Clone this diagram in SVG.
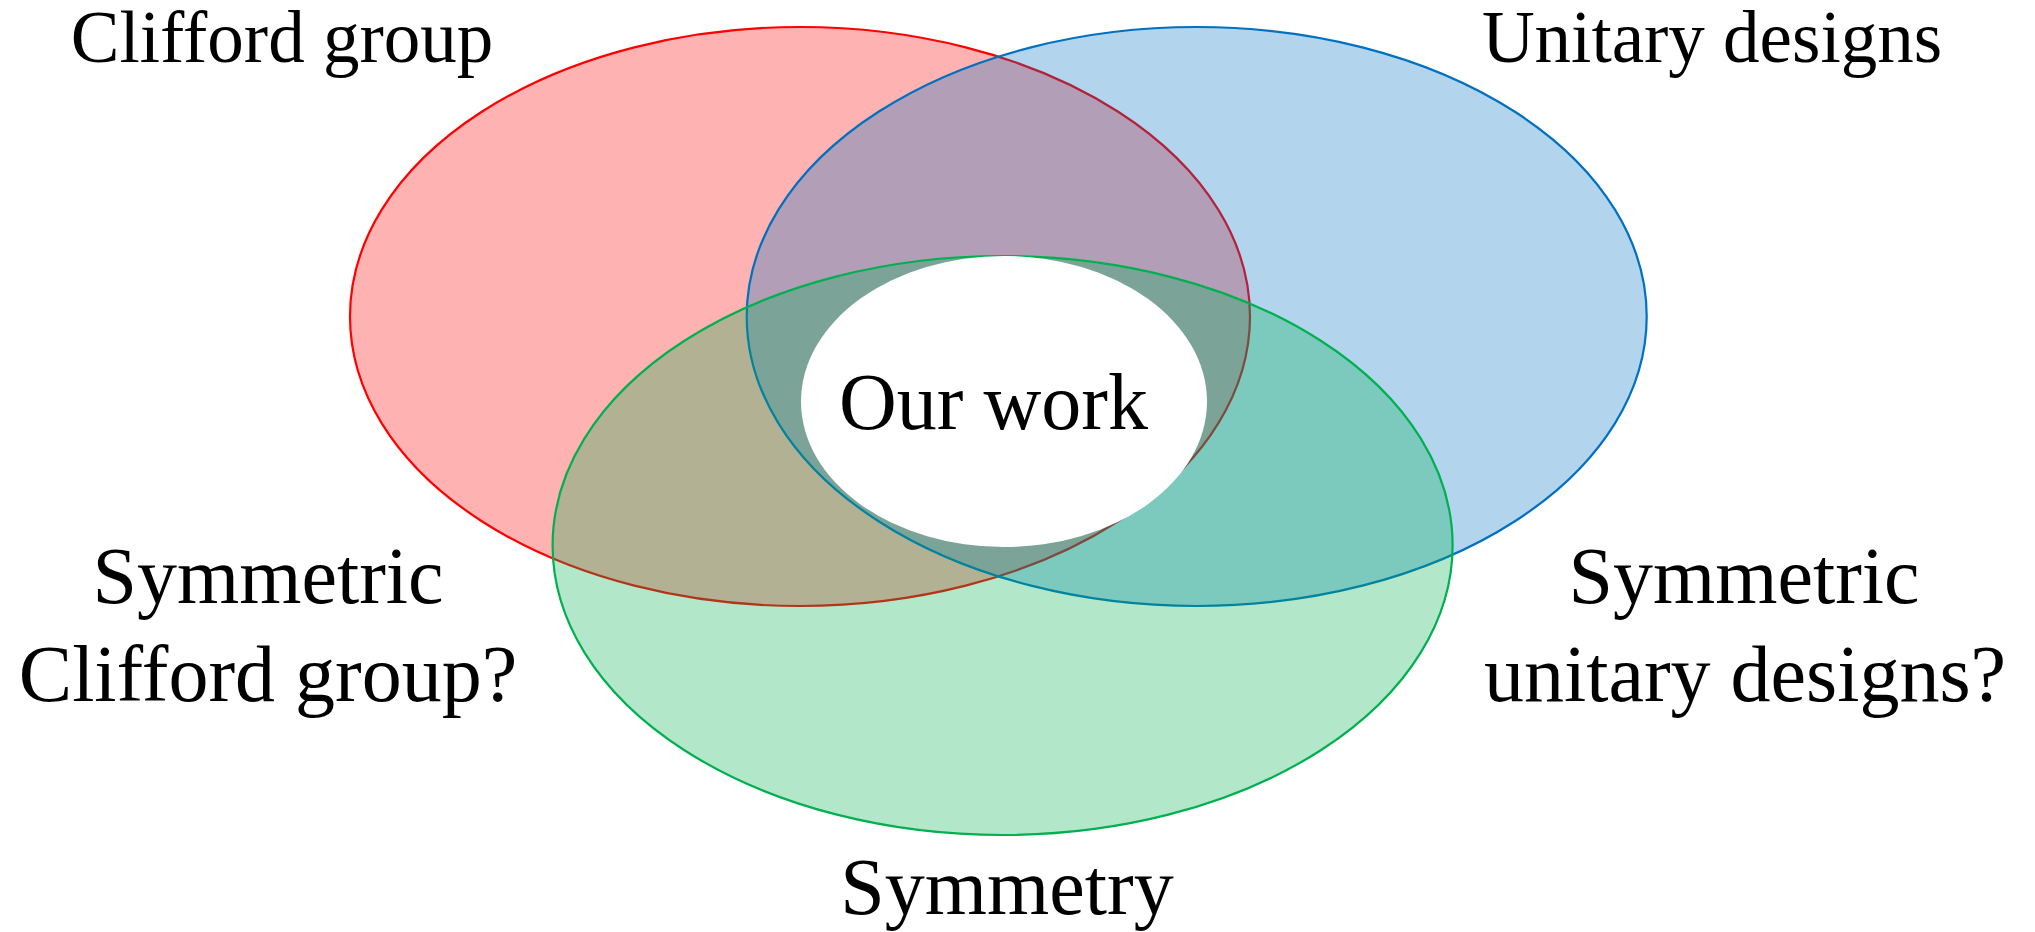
<svg xmlns="http://www.w3.org/2000/svg" width="2035" height="932" viewBox="0 0 2035 932">
  <style>
    .set { stroke-width: 2.2; fill-opacity: 0.3; }
    .lbl { font-family: "Liberation Serif", "Times New Roman", serif; fill: #000; text-anchor: middle; }
    .top { font-size: 73px; }
    .big { font-size: 80px; }
  </style>
  <rect x="0" y="0" width="2035" height="932" fill="#ffffff"/>
  <g id="clifford">
    <ellipse class="set" cx="800" cy="316.5" rx="450" ry="289.5" fill="#FF0000" stroke="#FF0000"/>
  </g>
  <g id="unitary">
    <ellipse class="set" cx="1196.7" cy="316.5" rx="450" ry="289.5" fill="#0070C0" stroke="#0070C0"/>
  </g>
  <g id="symmetry">
    <ellipse class="set" cx="1002.6" cy="545.5" rx="450" ry="289.5" fill="#00B050" stroke="#00B050"/>
  </g>
  <g id="our-work">
    <ellipse cx="1004" cy="401.5" rx="203" ry="145.5" fill="#ffffff"/>
    <text class="lbl big" x="993.5" y="429">Our work</text>
  </g>
  <g id="labels">
    <text class="lbl top" x="282" y="62">Clifford group</text>
    <text class="lbl top" x="1712" y="62">Unitary designs</text>
    <text class="lbl big" x="268" y="603">Symmetric</text>
    <text class="lbl big" x="268" y="701">Clifford group?</text>
    <text class="lbl big" x="1744" y="603">Symmetric</text>
    <text class="lbl big" x="1745" y="701">unitary designs?</text>
    <text class="lbl big" x="1007" y="914">Symmetry</text>
  </g>
</svg>
